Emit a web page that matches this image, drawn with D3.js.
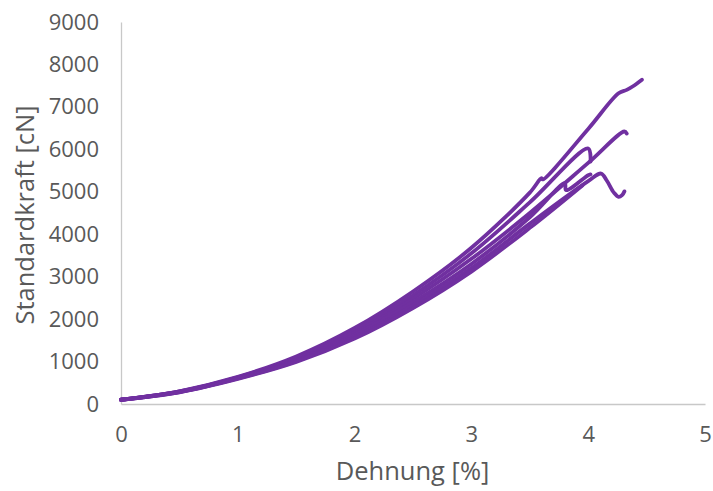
<!DOCTYPE html>
<html>
<head>
<meta charset="utf-8">
<script src="https://cdn.jsdelivr.net/npm/d3@7"></script>
<style>
  html, body { margin: 0; padding: 0; background: #fff; }
  svg { display: block; }
  text { font-family: "Open Sans", "Noto Sans", sans-serif; fill: #595959; }
</style>
</head>
<body>
<svg id="chart" width="713" height="491"></svg>
<script>
// Data (Dehnung [%], Standardkraft [cN])
const curve1X = [0, 0.5, 1, 1.5, 2, 2.5, 3, 3.5, 3.6, 3.61, 4.0, 4.26, 4.33, 4.38, 4.46];
const curve1Y = [100, 300, 640, 1120, 1790, 2650, 3680, 4980, 5320, 5290, 6480, 7320, 7400, 7480, 7640];
const curve2X = [0, 0.5, 1, 1.5, 2, 2.5, 3, 3.5, 4.0, 4.02];
const curve2Y = [100, 295, 630, 1090, 1730, 2560, 3550, 4750, 6020, 5710];
const curve3X = [0, 0.5, 1, 1.5, 2, 2.5, 3, 3.5, 4.0, 4.31, 4.33];
const curve3Y = [100, 290, 620, 1060, 1680, 2480, 3420, 4500, 5680, 6420, 6370];
const curve4X = [0, 0.5, 1, 1.5, 2, 2.5, 3, 3.5, 3.8, 3.81, 4.0, 4.02];
const curve4Y = [100, 285, 610, 1030, 1630, 2400, 3300, 4400, 5200, 5040, 5390, 5410];
const curve5X = [0, 0.5, 1, 1.5, 2, 2.5, 3, 3.5, 4.0, 4.11, 4.16, 4.22, 4.26, 4.29, 4.31];
const curve5Y = [100, 280, 600, 1010, 1580, 2320, 3200, 4250, 5250, 5430, 5260, 4980, 4880, 4920, 5010];
const curve6X = [0, 0.5, 1, 1.5, 2, 2.5, 3, 3.5, 3.95];
const curve6Y = [100, 275, 590, 990, 1540, 2260, 3120, 4150, 5150];

const xTicks = [0, 1, 2, 3, 4, 5];
const yTicks = [0, 1000, 2000, 3000, 4000, 5000, 6000, 7000, 8000, 9000];
const xTitle = "Dehnung [%]";
const yTitle = "Standardkraft [cN]";

const series = [
  [curve1X, curve1Y], [curve2X, curve2Y], [curve3X, curve3Y],
  [curve4X, curve4Y], [curve5X, curve5Y], [curve6X, curve6Y]
].map(([xs, ys]) => xs.map((v, i) => ({x: v, y: ys[i]})));

const svg = d3.select("#chart");
const mLeft = 121, mRight = 705, mTop = 22, mBottom = 404;

const x = d3.scaleLinear().domain([0, 5]).range([mLeft, mRight]);
const y = d3.scaleLinear().domain([0, 9000]).range([mBottom, mTop]);

// axes
const xAxis = svg.append("g").attr("transform", `translate(0,${mBottom})`)
  .call(d3.axisBottom(x).tickValues(xTicks).tickSize(0).tickPadding(22).tickFormat(d3.format("d")));
const yAxis = svg.append("g").attr("transform", `translate(${mLeft},0)`)
  .call(d3.axisLeft(y).tickValues(yTicks).tickSize(0).tickPadding(22).tickFormat(d3.format("d")));
[xAxis, yAxis].forEach(g => {
  g.select(".domain").attr("stroke", "#C8C8C8").attr("stroke-width", 1.3);
  g.selectAll("text").style("font-family", '"Open Sans", "Noto Sans", sans-serif')
    .style("font-size", "22px").attr("fill", "#595959");
});

// lines
const line = d3.line().x(d => x(d.x)).y(d => y(d.y)).curve(d3.curveCatmullRom.alpha(0.5));
svg.append("g").selectAll("path").data(series).join("path")
  .attr("d", line)
  .attr("fill", "none")
  .attr("stroke", "#7030A0")
  .attr("stroke-width", 3.8)
  .attr("stroke-linejoin", "round")
  .attr("stroke-linecap", "round");

// titles
svg.append("text").attr("x", 412.5).attr("y", 480)
  .attr("text-anchor", "middle").style("font-size", "25.5px").text(xTitle);
svg.append("text").attr("transform", `translate(34,215) rotate(-90)`)
  .attr("text-anchor", "middle").style("font-size", "25.5px").text(yTitle);
</script>
</body>
</html>
